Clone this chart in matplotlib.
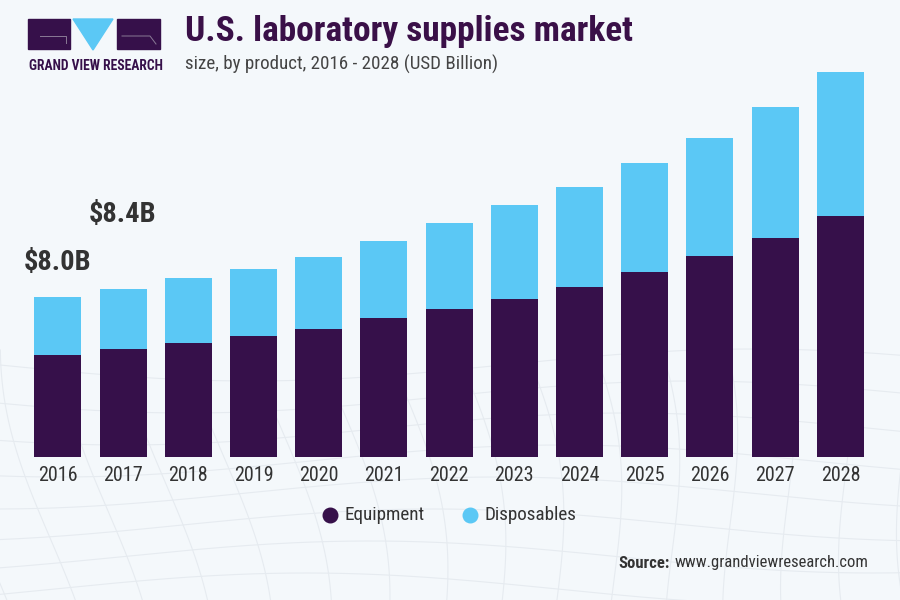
import numpy as np
import matplotlib
matplotlib.use("Agg")
import matplotlib.pyplot as plt
from matplotlib import font_manager
from matplotlib.patches import Rectangle, Polygon

years = ["2016", "2017", "2018", "2019", "2020", "2021", "2022",
         "2023", "2024", "2025", "2026", "2027", "2028"]
equipment = [5.1, 5.4, 5.7, 6.05, 6.4, 6.95, 7.4, 7.9, 8.5, 9.25, 10.05, 10.95, 12.05]
disposables = [2.9, 3.0, 3.25, 3.35, 3.6, 3.85, 4.3, 4.7, 5.0, 5.45, 5.9, 6.55, 7.2]
callouts = {0: "$8.0B", 1: "$8.4B"}

dark = "#36104a"
light = "#5bc8f5"
bg = "#f4f8fb"

# condensed face like the original, whichever one is around
have = {f.name for f in font_manager.fontManager.ttflist}
narrow = [f for f in ["Roboto Condensed", "Archivo Narrow", "Liberation Sans Narrow",
                      "Roboto"] if f in have][:1] + ["DejaVu Sans"]
plt.rcParams["font.family"] = narrow

fig = plt.figure(figsize=(9, 6), dpi=100)
fig.patch.set_facecolor(bg)

# faint mesh in the background, lower part
bgax = fig.add_axes([0, 0, 1, 1], zorder=0)
bgax.set_xlim(0, 900)
bgax.set_ylim(600, 0)
bgax.axis("off")
xs = np.linspace(0, 900, 200)
for k in range(8):
    y0 = 365 + k * 32
    bgax.plot(xs, y0 + 16 * np.sin(xs / 160 + k * 0.4), color="#e6ebf0", lw=0.8)
yy = np.linspace(350, 600, 100)
for k in range(16):
    x0 = -40 + k * 62
    bgax.plot(x0 + 25 * np.sin(yy / 90 + k * 0.3) + (yy - 350) * 0.15, yy,
              color="#e6ebf0", lw=0.8)

ax = fig.add_axes([0.028, 0.238, 0.942, 0.667], zorder=2)
ax.set_facecolor("none")
x = np.arange(len(years))
w = 0.72
ax.bar(x, equipment, w, color=dark, label="Equipment")
ax.bar(x, disposables, w, bottom=equipment, color=light, label="Disposables")
ax.set_xlim(-0.5, len(years) - 0.5)
ax.set_ylim(0, 20)
ax.set_xticks(x)
ax.set_xticklabels(years, fontsize=14.5, color="#333333")
ax.tick_params(axis="x", length=0, pad=6)
ax.set_yticks([])
for s in ax.spines.values():
    s.set_visible(False)

offs = [25, 54]
for i, txt in callouts.items():
    total = equipment[i] + disposables[i]
    ax.annotate(txt, (x[i], total), xytext=(0, offs[i]), textcoords="offset points",
                ha="center", va="center", fontsize=20.5, fontweight="bold", color="#333333")

# title block
fig.text(0.206, 0.947, "U.S. laboratory supplies market", fontsize=25.5, fontweight="bold",
         color="#3a1048", va="center")
fig.text(0.206, 0.893, "size, by product, 2016 - 2028 (USD Billion)", fontsize=13.7,
         color="#444444", va="center")

# logo
bgax.add_patch(Rectangle((28, 19), 42, 30, color=dark, zorder=3))
bgax.plot([40, 66, 66], [36, 36, 43], color="#8a7a96", lw=0.7, zorder=4)
bgax.add_patch(Polygon([[73, 19], [113, 19], [93, 50]], color=light, zorder=3))
bgax.add_patch(Rectangle((117, 19), 43, 30, color=dark, zorder=3))
bgax.plot([122, 150, 156], [36, 36, 44], color="#8a7a96", lw=0.7, zorder=4)
fig.text(0.0317, 0.89, "GRAND VIEW RESEARCH", fontsize=9.8, fontweight="bold",
         color=dark, va="center")

# legend
for col, px, name in [(dark, 330, "Equipment"), (light, 470, "Disposables")]:
    bgax.scatter([px], [515], s=110, color=col, zorder=3)
    bgax.text(px + 14, 515, name, fontsize=13.8, color="#333333", va="center")

# source
bgax.text(868, 563, "www.grandviewresearch.com", fontsize=12, color="#333333",
          va="center", ha="right")
bgax.text(670, 563, "Source:", fontsize=12, fontweight="bold", color="#333333",
          va="center", ha="right")

fig.savefig("out.png", dpi=100, facecolor=bg)
